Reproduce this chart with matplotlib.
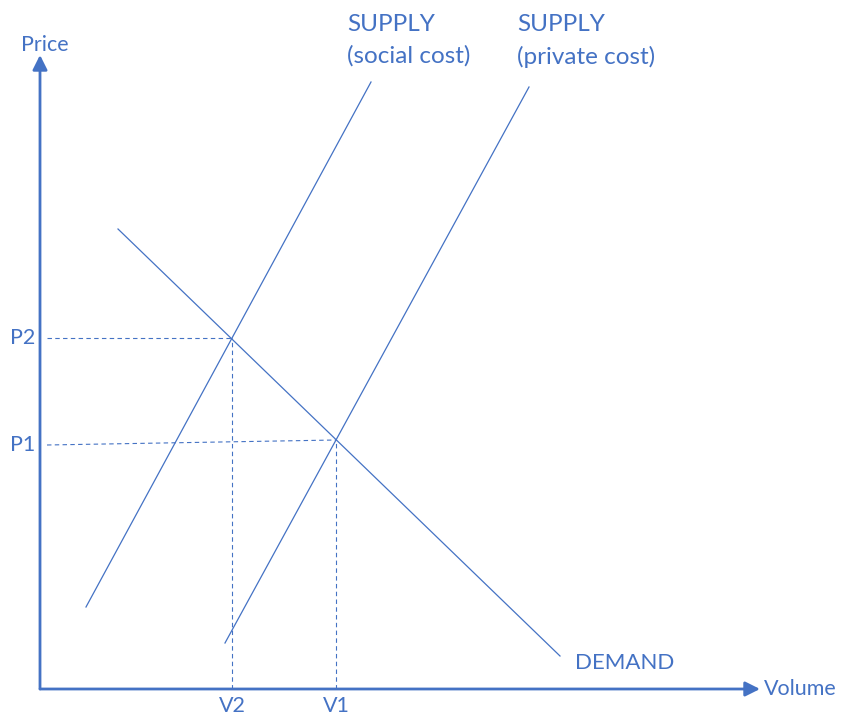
import matplotlib.pyplot as plt

# Externality diagram: social vs private supply cost
blue = '#4472C4'
plt.rcParams['font.family'] = ['Lato', 'DejaVu Sans']

# line endpoints (volume, price) in chart units, origin at axis corner
social_supply_x = [46, 331]
social_supply_y = [82, 607]
private_supply_x = [185, 489]
private_supply_y = [46, 602]
demand_x = [78, 520]
demand_y = [460, 33]

# equilibrium points
v2, p2 = 192, 351
v1, p1 = 296, 249

x_max, y_max = 720, 634

fig = plt.figure(figsize=(8.47, 7.15), dpi=100)
ax = fig.add_axes([0, 0, 1, 1])
ax.set_xlim(-40, 807)
ax.set_ylim(-26, 689)
ax.axis('off')

# axes with arrows
ax.annotate('', xy=(x_max, 0), xytext=(0, 0),
            arrowprops=dict(arrowstyle='-|>', color=blue, lw=2, mutation_scale=22, shrinkA=0, shrinkB=0))
ax.annotate('', xy=(0, y_max), xytext=(0, 0),
            arrowprops=dict(arrowstyle='-|>', color=blue, lw=2, mutation_scale=22, shrinkA=0, shrinkB=0))

ax.plot(social_supply_x, social_supply_y, color=blue, lw=0.9)
ax.plot(private_supply_x, private_supply_y, color=blue, lw=0.9)
ax.plot(demand_x, demand_y, color=blue, lw=0.9)

# dashed guide lines
dash = dict(color=blue, lw=0.8, linestyle=(0, (4, 3)))
ax.plot([7, v2], [p2, p2], **dash)
ax.plot([7, v1], [p1 - 5, p1], **dash)
ax.plot([v2, v2], [0, p2], **dash)
ax.plot([v1, v1], [0, p1], **dash)

fs = 15.5
ax.text(5, 644, 'Price', color=blue, fontsize=fs, ha='center', va='center')
ax.text(x_max + 4, 0, 'Volume', color=blue, fontsize=fs, ha='left', va='center')
ax.text(-5, p2, 'P2', color=blue, fontsize=fs, ha='right', va='center')
ax.text(-5, p1 - 5, 'P1', color=blue, fontsize=fs, ha='right', va='center')
ax.text(v2, -17, 'V2', color=blue, fontsize=fs, ha='center', va='center')
ax.text(v1, -17, 'V1', color=blue, fontsize=fs, ha='center', va='center')
ax.text(535, 26, 'DEMAND', color=blue, fontsize=16, ha='left', va='center')
ax.text(307, 675, 'SUPPLY\n(social cost)', color=blue, fontsize=17.5, ha='left', va='top',
        linespacing=1.6)
ax.text(477, 675, 'SUPPLY\n(private cost)', color=blue, fontsize=17.5, ha='left', va='top',
        linespacing=1.6)

fig.savefig('out.png', dpi=100)
